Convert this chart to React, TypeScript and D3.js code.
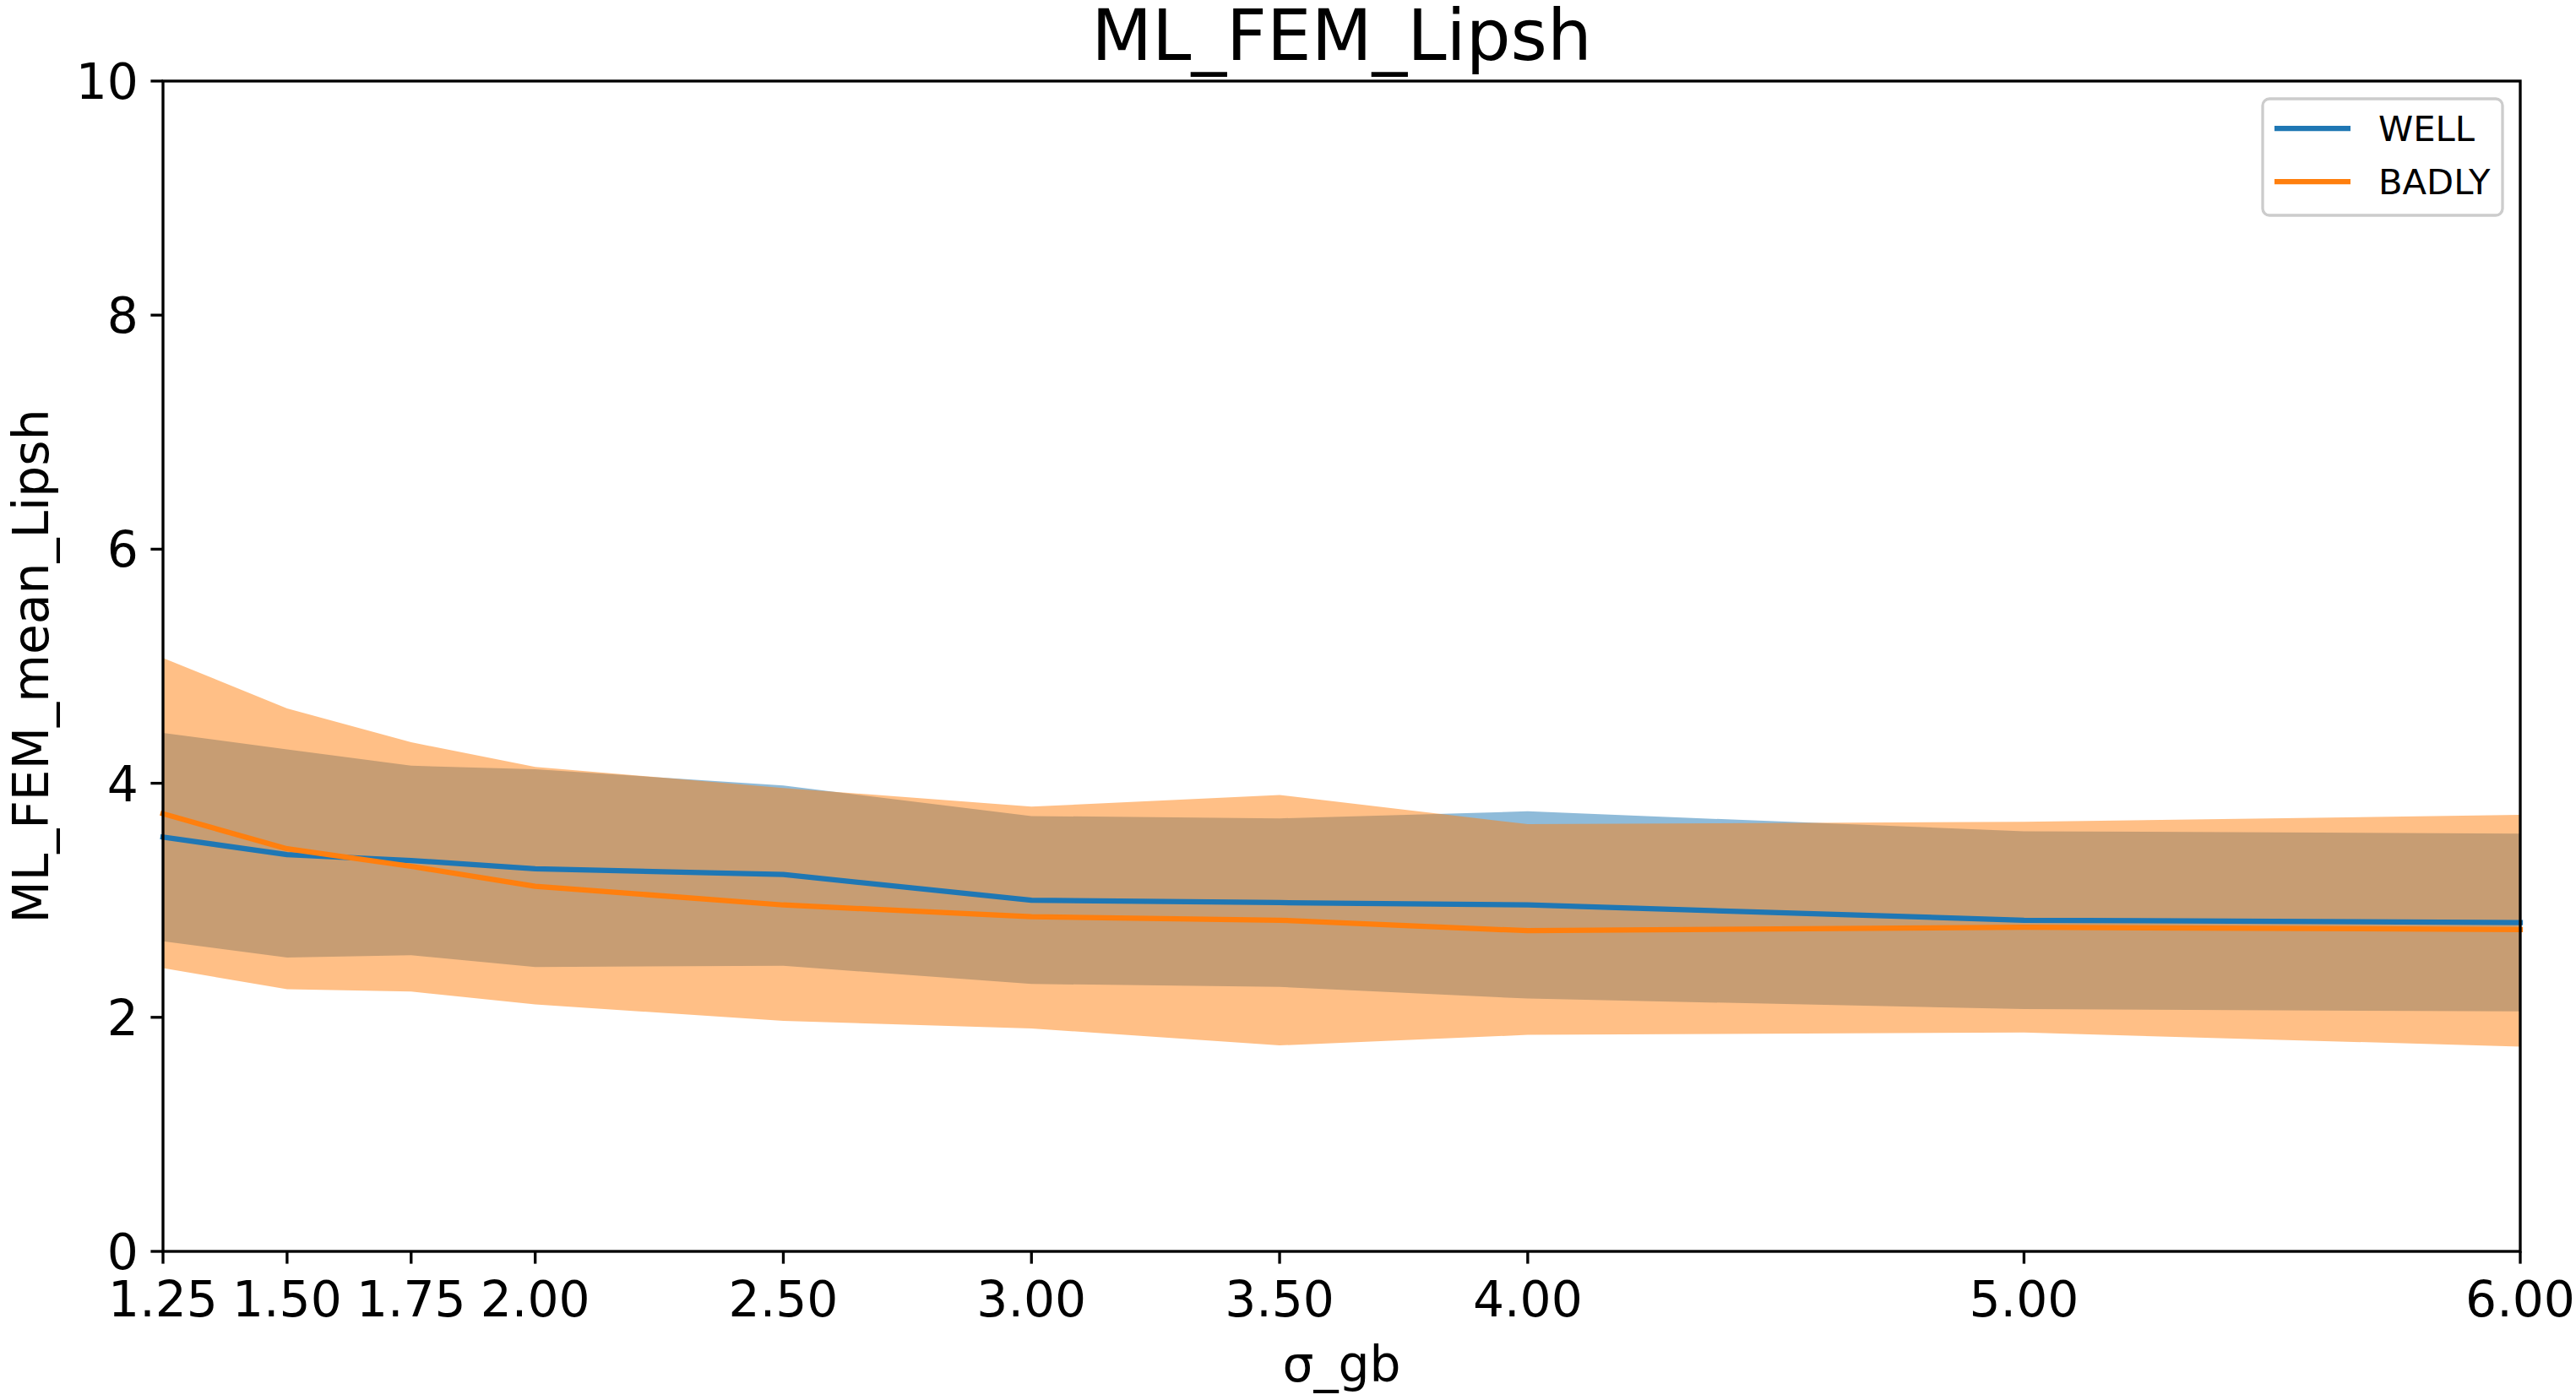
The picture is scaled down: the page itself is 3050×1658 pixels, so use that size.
import * as d3 from 'd3';
import React from 'react';

// sigma_gb values (x) and the two series: mean with a +/- band
const sigma = [1.25, 1.5, 1.75, 2.0, 2.5, 3.0, 3.5, 4.0, 5.0, 6.0];
const wellMean = [3.54, 3.39, 3.34, 3.27, 3.22, 3.0, 2.98, 2.96, 2.83, 2.81];
const wellUpper = [4.43, 4.29, 4.15, 4.12, 3.98, 3.72, 3.7, 3.76, 3.59, 3.57];
const wellLower = [2.65, 2.51, 2.53, 2.43, 2.44, 2.285, 2.26, 2.16, 2.07, 2.05];
const badlyMean = [3.74, 3.44, 3.29, 3.12, 2.96, 2.86, 2.83, 2.74, 2.77, 2.75];
const badlyUpper = [5.07, 4.64, 4.35, 4.14, 3.96, 3.8, 3.9, 3.65, 3.67, 3.73];
const badlyLower = [2.42, 2.24, 2.22, 2.11, 1.97, 1.905, 1.76, 1.85, 1.87, 1.75];
const yTicks = [0, 2, 4, 6, 8, 10];
const seriesNames = ['WELL', 'BADLY'];

const W = 3050;
const H = 1658;
const margin = { left: 193, right: W - 2984, top: 96, bottom: H - 1482 };
const font = '"DejaVu Sans", sans-serif';
const blue = '#1f77b4';
const orange = '#ff7f0e';

export default function App() {
    const x = d3.scaleLinear().domain([1.25, 6.0]).range([margin.left, W - margin.right]);
    const y = d3.scaleLinear().domain([0, 10]).range([H - margin.bottom, margin.top]);

    const band = (lo: number[], hi: number[]) =>
        d3.area<number>()
            .x((d) => x(d))
            .y0((d, i) => y(lo[i]))
            .y1((d, i) => y(hi[i]))(sigma) as string;

    const line = (vals: number[]) =>
        d3.line<number>()
            .x((d) => x(d))
            .y((d, i) => y(vals[i]))(sigma) as string;

    const x0 = margin.left;
    const x1 = W - margin.right;
    const y0 = H - margin.bottom;
    const y1 = margin.top;
    const tickLen = 14.6;

    const legendColors = [blue, orange];

    return (
        <svg
            width={W}
            height={H}
            style={{ position: 'absolute', left: 0, top: 0, background: '#fff' }}
            fontFamily={font}
        >
            <rect x={0} y={0} width={W} height={H} fill="#fff" />

            {/* bands */}
            <path d={band(wellLower, wellUpper)} fill={blue} fillOpacity={0.5} />
            <path d={band(badlyLower, badlyUpper)} fill={orange} fillOpacity={0.5} />

            {/* mean lines */}
            <path d={line(wellMean)} fill="none" stroke={blue} strokeWidth={6.25} strokeLinejoin="round" strokeLinecap="square" />
            <path d={line(badlyMean)} fill="none" stroke={orange} strokeWidth={6.25} strokeLinejoin="round" strokeLinecap="square" />

            {/* axes frame */}
            <rect x={x0} y={y1} width={x1 - x0} height={y0 - y1} fill="none" stroke="#000" strokeWidth={3.33} />

            {/* x ticks */}
            {sigma.map((s) => (
                <g key={'x' + s} transform={`translate(${x(s)},${y0})`}>
                    <line y1={0} y2={tickLen} stroke="#000" strokeWidth={3.33} />
                    <text y={77} textAnchor="middle" fontSize={58.3} fill="#000">
                        {s.toFixed(2)}
                    </text>
                </g>
            ))}

            {/* y ticks */}
            {yTicks.map((t) => (
                <g key={'y' + t} transform={`translate(${x0},${y(t)})`}>
                    <line x1={0} x2={-tickLen} stroke="#000" strokeWidth={3.33} />
                    <text x={-tickLen - 14.6} y={21} textAnchor="end" fontSize={58.3} fill="#000">
                        {t}
                    </text>
                </g>
            ))}

            {/* labels */}
            <text x={(x0 + x1) / 2} y={1636} textAnchor="middle" fontSize={58.3} fill="#000">σ_gb</text>
            <text
                transform={`translate(57,${(y0 + y1) / 2}) rotate(-90)`}
                textAnchor="middle"
                fontSize={58.3}
                fill="#000"
            >
                ML_FEM_mean_Lipsh
            </text>
            <text x={(x0 + x1) / 2} y={71} textAnchor="middle" fontSize={83.3} fill="#000">ML_FEM_Lipsh</text>

            {/* legend */}
            <g>
                <rect x={2679} y={117} width={284} height={138} rx={8} fill="#fff" fillOpacity={0.8} stroke="#cccccc" strokeWidth={3.33} />
                {seriesNames.map((name, i) => (
                    <g key={name} transform={`translate(0,${152 + i * 63})`}>
                        <line x1={2693} x2={2783} y1={0} y2={0} stroke={legendColors[i]} strokeWidth={6.25} />
                        <text x={2816} y={14.5} fontSize={41.7} fill="#000">{name}</text>
                    </g>
                ))}
            </g>
        </svg>
    );
}
